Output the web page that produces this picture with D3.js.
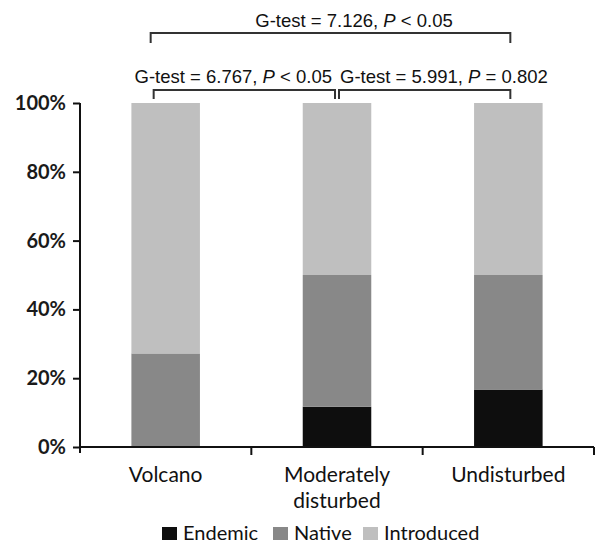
<!DOCTYPE html>
<html>
<head>
<meta charset="utf-8">
<script src="https://cdn.jsdelivr.net/npm/d3@7"></script>
<style>
  body { margin: 0; background: #fff; }
  svg { display: block; }
</style>
</head>
<body>
<svg width="595" height="543"></svg>
<script>
// data (percent of species)
const categories = ["Volcano", "Moderately disturbed", "Undisturbed"];
const seriesNames = ["Endemic", "Native", "Introduced"];
const endemic = [0, 11.7, 16.7];
const native = [27.2, 38.3, 33.3];
const introduced = [72.8, 50, 50];
const yTicks = [0, 20, 40, 60, 80, 100];
const tests = [
  {from: 0, to: 2, g: "7.126", op: "<", p: "0.05"},
  {from: 0, to: 1, g: "6.767", op: "<", p: "0.05"},
  {from: 1, to: 2, g: "5.991", op: "=", p: "0.802"}
];

const colors = {Endemic: "#0e0e0e", Native: "#888888", Introduced: "#bfbfbf"};

const svg = d3.select("svg");
const plotLeft = 80, plotRight = 594, plotTop = 103, plotBottom = 447;

const x = d3.scaleBand().domain(categories).range([plotLeft, plotRight]).padding(0);
const y = d3.scaleLinear().domain([0, 100]).range([plotBottom, plotTop]);
const barW = x.bandwidth() * 0.4;
const cx = c => x(c) + x.bandwidth() / 2;

// stacked data
const rows = categories.map((c, i) => ({cat: c, Endemic: endemic[i], Native: native[i], Introduced: introduced[i]}));
const stack = d3.stack().keys(seriesNames)(rows);

svg.append("g").selectAll("g")
  .data(stack)
  .join("g")
    .attr("fill", d => colors[d.key])
  .selectAll("rect")
  .data(d => d)
  .join("rect")
    .attr("x", d => cx(d.data.cat) - barW / 2)
    .attr("width", barW)
    .attr("y", d => y(d[1]))
    .attr("height", d => y(d[0]) - y(d[1]));

// y axis
const yAxis = svg.append("g")
  .attr("transform", `translate(${plotLeft},0)`)
  .call(d3.axisLeft(y).tickValues(yTicks).tickFormat(d => d + "%").tickSize(7).tickPadding(7).tickSizeOuter(0));
yAxis.select(".domain").attr("stroke", "#111").attr("stroke-width", 2).attr("d", `M0,${plotTop}V${plotBottom + 6}`);
yAxis.selectAll(".tick line").attr("stroke", "#111").attr("stroke-width", 2);
yAxis.selectAll(".tick text")
  .attr("font-family", "Lato, sans-serif").attr("font-size", 20).attr("font-weight", "bold").attr("fill", "#1a1a1a");

// x axis
const xAxis = svg.append("g").attr("transform", `translate(0,${plotBottom})`);
xAxis.append("path").attr("d", `M${plotLeft},0H${plotRight}`).attr("stroke", "#111").attr("stroke-width", 2);
xAxis.selectAll("line.tk")
  .data(categories)
  .join("line")
    .attr("class", "tk")
    .attr("x1", d => x(d) + x.bandwidth()).attr("x2", d => x(d) + x.bandwidth())
    .attr("y1", 0).attr("y2", 8)
    .attr("stroke", "#111").attr("stroke-width", 2);

const lab = svg.append("g")
  .attr("font-family", "Lato, sans-serif").attr("font-size", 21).attr("fill", "#111")
  .attr("text-anchor", "middle");
categories.forEach(c => {
  const words = c === "Moderately disturbed" ? ["Moderately", "disturbed"] : [c];
  const t = lab.append("text").attr("x", cx(c)).attr("y", 482);
  words.forEach((w, j) => t.append("tspan").attr("x", cx(c)).attr("dy", j ? 26 : 0).text(w));
});

// G-test brackets
const br = svg.append("g").attr("fill", "none").attr("stroke", "#333").attr("stroke-width", 2);
const ann = svg.append("g").attr("font-family", "'Liberation Sans', Arial, sans-serif").attr("font-size", 18.5).attr("fill", "#111");

function label(t, xpos, ypos, anchor) {
  const txt = ann.append("text").attr("x", xpos).attr("y", ypos).attr("text-anchor", anchor);
  txt.append("tspan").text(`G-test = ${t.g}, `);
  txt.append("tspan").attr("font-style", "italic").text("P");
  txt.append("tspan").text(` ${t.op} ${t.p}`);
}

// overall test
{
  const t = tests[0];
  const x1 = cx(categories[t.from]) - 15, x2 = cx(categories[t.to]) + 2;
  br.append("path").attr("d", `M${x1},43V33H${x2}V43`);
  label(t, cx(categories[1]) + 17, 27, "middle");
}
// pairwise tests
{
  const t1 = tests[1], t2 = tests[2];
  const a = cx(categories[t1.from]) - 12, m = cx(categories[1]), b = cx(categories[t2.to]) + 2;
  br.append("path").attr("d", `M${a},99V90H${m - 2}V99`);
  br.append("path").attr("d", `M${m + 2},99V90H${b}V99`);
  label(t1, m - 5, 82.5, "end");
  label(t2, m + 3, 82.5, "start");
}

// legend
const legX = [162, 273, 363];
const leg = svg.append("g").attr("font-family", "Lato, sans-serif").attr("font-size", 20).attr("fill", "#111");
seriesNames.forEach((s, i) => {
  leg.append("rect").attr("x", legX[i]).attr("y", 527).attr("width", 15).attr("height", 13).attr("fill", colors[s]);
  leg.append("text").attr("x", legX[i] + 21).attr("y", 540).text(s);
});
</script>
</body>
</html>
